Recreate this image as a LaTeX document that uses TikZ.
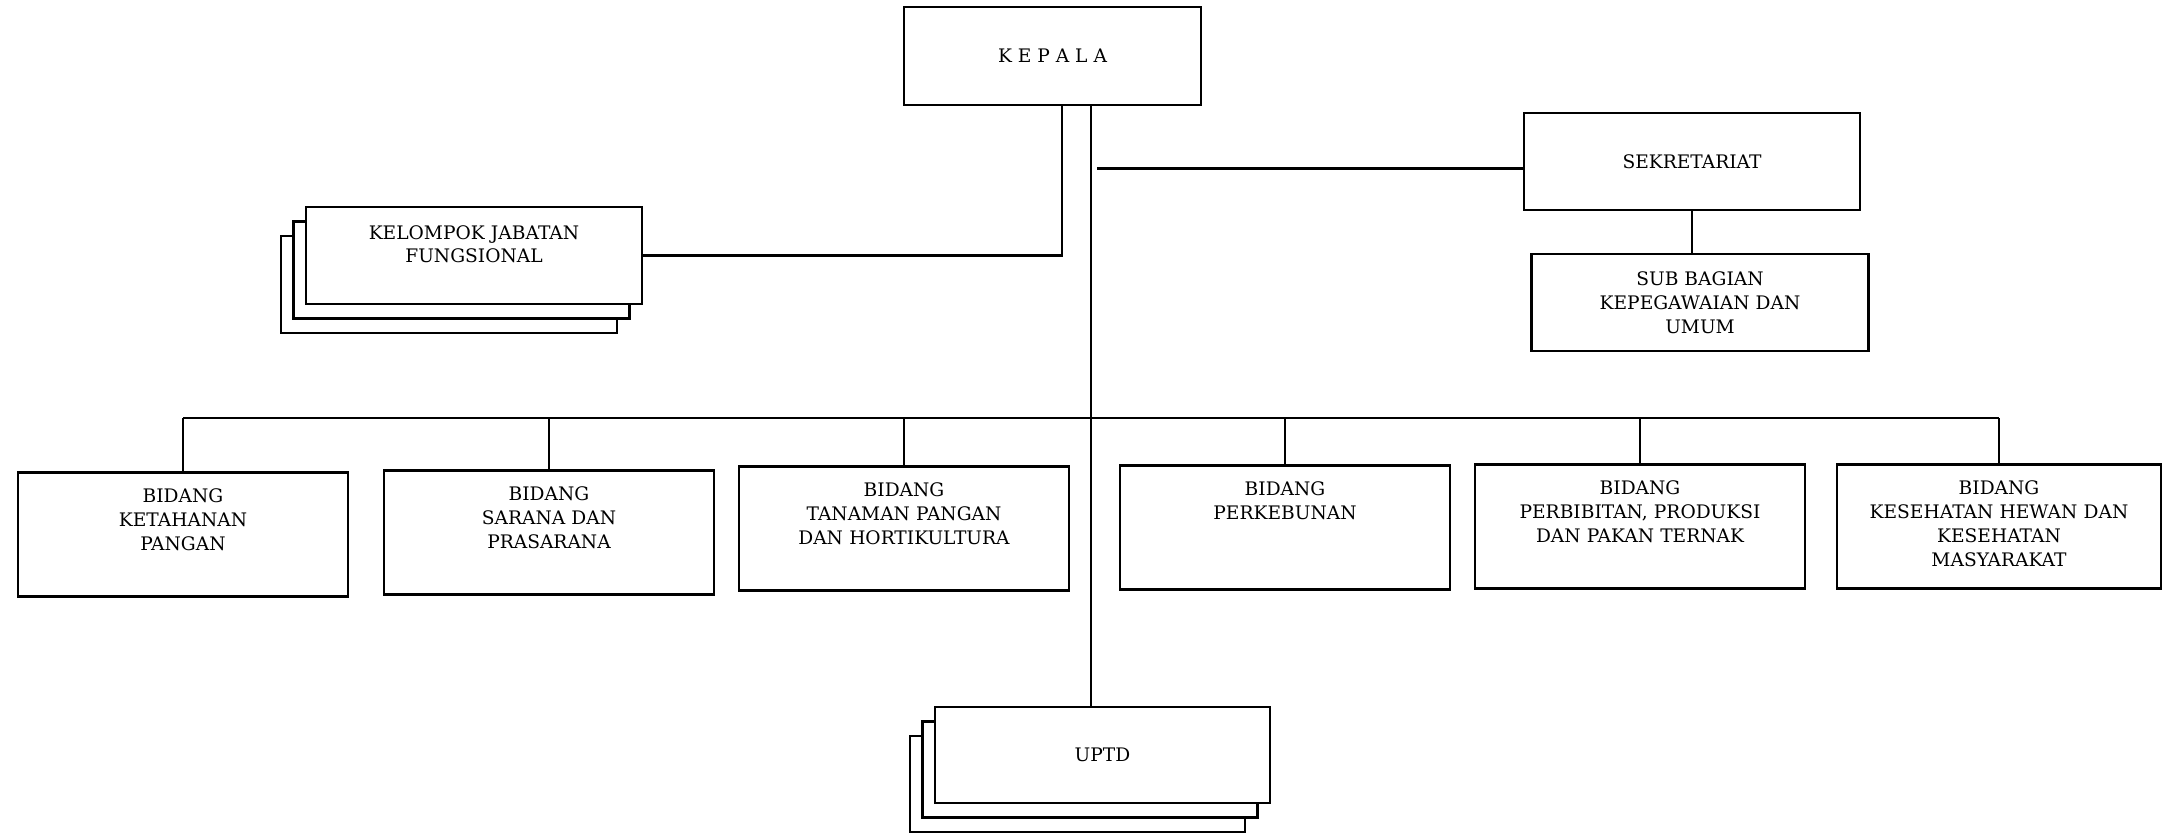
\documentclass[tikz,border=0pt]{standalone}
\usepackage{fontspec}
\setmainfont{DejaVu Serif}
\usepackage{tikz}
\usetikzlibrary{positioning,shadows}

\begin{document}
\begin{tikzpicture}[
    every node/.style={font=\fontsize{5.3}{6.8}\selectfont, align=center},
    unit/.style={draw, line width=0.8pt, fill=white, inner sep=0pt},
    topunit/.style={unit, text width=3.1cm, text height=0.3cm, text depth=0.94cm,
                    minimum width=3.3cm, anchor=north},
    stack/.style={
      general shadow={draw, fill=white, line width=0.8pt, shadow xshift=-0.25cm, shadow yshift=-0.29cm},
      general shadow={draw, fill=white, line width=0.8pt, shadow xshift=-0.125cm, shadow yshift=-0.145cm}},
    link/.style={line width=0.7pt}
  ]

% Page frame
\path[use as bounding box, fill=white] (0,0) rectangle (21.65,-8.34);

% Head
\node[unit, minimum width=2.97cm, minimum height=0.98cm] (kepala) at (10.525,-0.56) {K E P A L A};
\coordinate (kl) at (10.62,-1.05);
\coordinate (kr) at (10.91,-1.05);

% Secretariat
\node[unit, minimum width=3.36cm, minimum height=0.97cm] (sek) at (16.92,-1.615) {SEKRETARIAT};
\node[unit, minimum width=3.37cm, minimum height=0.97cm] (sub) at (17.0,-3.025)
  {SUB BAGIAN\\KEPEGAWAIAN DAN\\UMUM};
\coordinate (sekin) at ([yshift=-0.07cm]sek.west);

% Functional group
\node[unit, stack, text width=3.2cm, text height=0.32cm, text depth=0.65cm, minimum width=3.36cm]
  (kjf) at (4.74,-2.555) {KELOMPOK JABATAN\\FUNGSIONAL};

% Divisions
\node[topunit] (b1) at (1.83,-4.71) {BIDANG\\KETAHANAN\\PANGAN};
\node[topunit] (b2) at (5.49,-4.69) {BIDANG\\SARANA DAN\\PRASARANA};
\node[topunit] (b3) at (9.04,-4.65) {BIDANG\\TANAMAN PANGAN\\DAN HORTIKULTURA};
\node[topunit] (b4) at (12.85,-4.64) {BIDANG\\PERKEBUNAN};
\node[topunit] (b5) at (16.40,-4.63) {BIDANG\\PERBIBITAN, PRODUKSI\\DAN PAKAN TERNAK};
\node[topunit, minimum width=3.24cm] (b6) at (19.99,-4.63) {BIDANG\\KESEHATAN HEWAN DAN\\KESEHATAN\\MASYARAKAT};

% Technical units
\node[unit, stack, minimum width=3.35cm, minimum height=0.96cm] (uptd) at (11.025,-7.55) {UPTD};

% Lines
\coordinate (bus) at (10.91,-4.18);
\draw[link] (kr) -- (kr |- uptd.north);
\draw[link] (kl) |- (kjf.east);
\draw[link, shorten >=0.06cm] (sekin) -- (sekin -| kr);
\draw[link] (sek.south) -- (sek.south |- sub.north);
\draw[link] (b1.north |- bus) -- (b6.north |- bus);
\foreach \b in {b1,b2,b3,b4,b5,b6}
  \draw[link] (\b.north |- bus) -- (\b.north);

\end{tikzpicture}
\end{document}
